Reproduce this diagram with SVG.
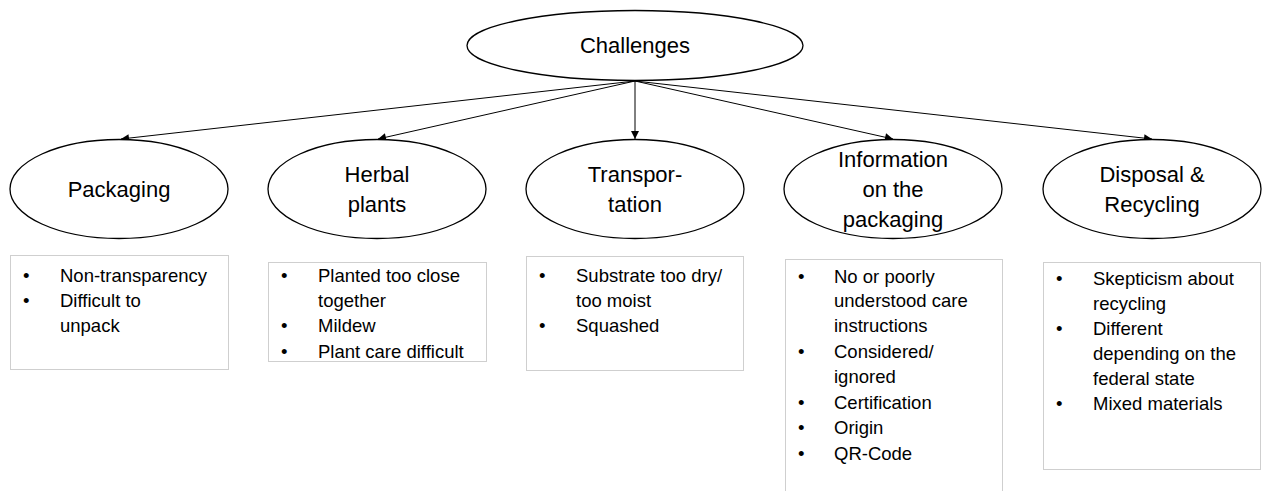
<svg xmlns="http://www.w3.org/2000/svg" width="1264" height="491" viewBox="0 0 1264 491">
  <style>
    .oval { fill: #ffffff; stroke: #000000; stroke-width: 1.3; }
    .box { fill: #ffffff; stroke: #cfcfcf; stroke-width: 1; }
    .title { font-family: "Liberation Sans", Arial, sans-serif; font-size: 22px; fill: #000000; text-anchor: middle; }
    .item { font-family: "Liberation Sans", Arial, sans-serif; font-size: 18.5px; fill: #000000; }
    .edge { fill: none; stroke: #000000; stroke-width: 1; marker-end: url(#arrow); }
  </style>
  <defs>
    <marker id="arrow" viewBox="0 0 10 10" refX="10" refY="5" markerWidth="10" markerHeight="8" markerUnits="userSpaceOnUse" orient="auto">
      <path d="M0,0 L10,5 L0,10 z" fill="#000000"/>
    </marker>
  </defs>
  <rect width="1264" height="491" fill="#ffffff"/>

  <!-- connectors from the root to each category -->
  <g id="connectors">
    <line class="edge" x1="635" y1="81" x2="121" y2="139"/>
    <line class="edge" x1="635" y1="81" x2="378" y2="139"/>
    <line class="edge" x1="635" y1="81" x2="635" y2="139"/>
    <line class="edge" x1="635" y1="81" x2="893" y2="139"/>
    <line class="edge" x1="635" y1="81" x2="1152" y2="139"/>
  </g>

  <g id="challenges">
    <ellipse class="oval" cx="635" cy="45.5" rx="168" ry="35"/>
    <text class="title" x="635" y="53">Challenges</text>
  </g>

  <g id="packaging">
    <ellipse class="oval" cx="119" cy="189" rx="109" ry="49.5"/>
    <text class="title" x="119" y="197">Packaging</text>
    <rect class="box" x="10.5" y="255.5" width="218" height="114"/>
    <g class="item">
      <text x="23" y="282">•</text><text x="60" y="282">Non-transparency</text>
      <text x="23" y="307">•</text><text x="60" y="307">Difficult to</text>
      <text x="60" y="332">unpack</text>
    </g>
  </g>

  <g id="herbal-plants">
    <ellipse class="oval" cx="377" cy="189" rx="109" ry="49.5"/>
    <text class="title" x="377" y="182">Herbal</text>
    <text class="title" x="377" y="212">plants</text>
    <rect class="box" x="268.5" y="262.5" width="218" height="99"/>
    <g class="item">
      <text x="281" y="282">•</text><text x="318" y="282">Planted too close</text>
      <text x="318" y="307">together</text>
      <text x="281" y="332">•</text><text x="318" y="332">Mildew</text>
      <text x="281" y="358">•</text><text x="318" y="358">Plant care difficult</text>
    </g>
  </g>

  <g id="transportation">
    <ellipse class="oval" cx="635" cy="189" rx="109" ry="49.5"/>
    <text class="title" x="635" y="182">Transpor-</text>
    <text class="title" x="635" y="212">tation</text>
    <rect class="box" x="526.5" y="256.5" width="217" height="114"/>
    <g class="item">
      <text x="539" y="282">•</text><text x="576" y="282">Substrate too dry/</text>
      <text x="576" y="307">too moist</text>
      <text x="539" y="332">•</text><text x="576" y="332">Squashed</text>
    </g>
  </g>

  <g id="information">
    <ellipse class="oval" cx="893" cy="189" rx="109" ry="49.5"/>
    <text class="title" x="893" y="167">Information</text>
    <text class="title" x="893" y="197">on the</text>
    <text class="title" x="893" y="227">packaging</text>
    <rect class="box" x="785.5" y="259.5" width="217" height="240"/>
    <g class="item">
      <text x="798" y="283">•</text><text x="834" y="283">No or poorly</text>
      <text x="834" y="307">understood care</text>
      <text x="834" y="332">instructions</text>
      <text x="798" y="358">•</text><text x="834" y="358">Considered/</text>
      <text x="834" y="383">ignored</text>
      <text x="798" y="409">•</text><text x="834" y="409">Certification</text>
      <text x="798" y="434">•</text><text x="834" y="434">Origin</text>
      <text x="798" y="460">•</text><text x="834" y="460">QR-Code</text>
    </g>
  </g>

  <g id="disposal">
    <ellipse class="oval" cx="1152" cy="189" rx="109" ry="49.5"/>
    <text class="title" x="1152" y="182">Disposal &amp;</text>
    <text class="title" x="1152" y="212">Recycling</text>
    <rect class="box" x="1043.5" y="262.5" width="217" height="207"/>
    <g class="item">
      <text x="1056" y="285">•</text><text x="1093" y="285">Skepticism about</text>
      <text x="1093" y="310">recycling</text>
      <text x="1056" y="335">•</text><text x="1093" y="335">Different</text>
      <text x="1093" y="360">depending on the</text>
      <text x="1093" y="385">federal state</text>
      <text x="1056" y="410">•</text><text x="1093" y="410">Mixed materials</text>
    </g>
  </g>
</svg>
